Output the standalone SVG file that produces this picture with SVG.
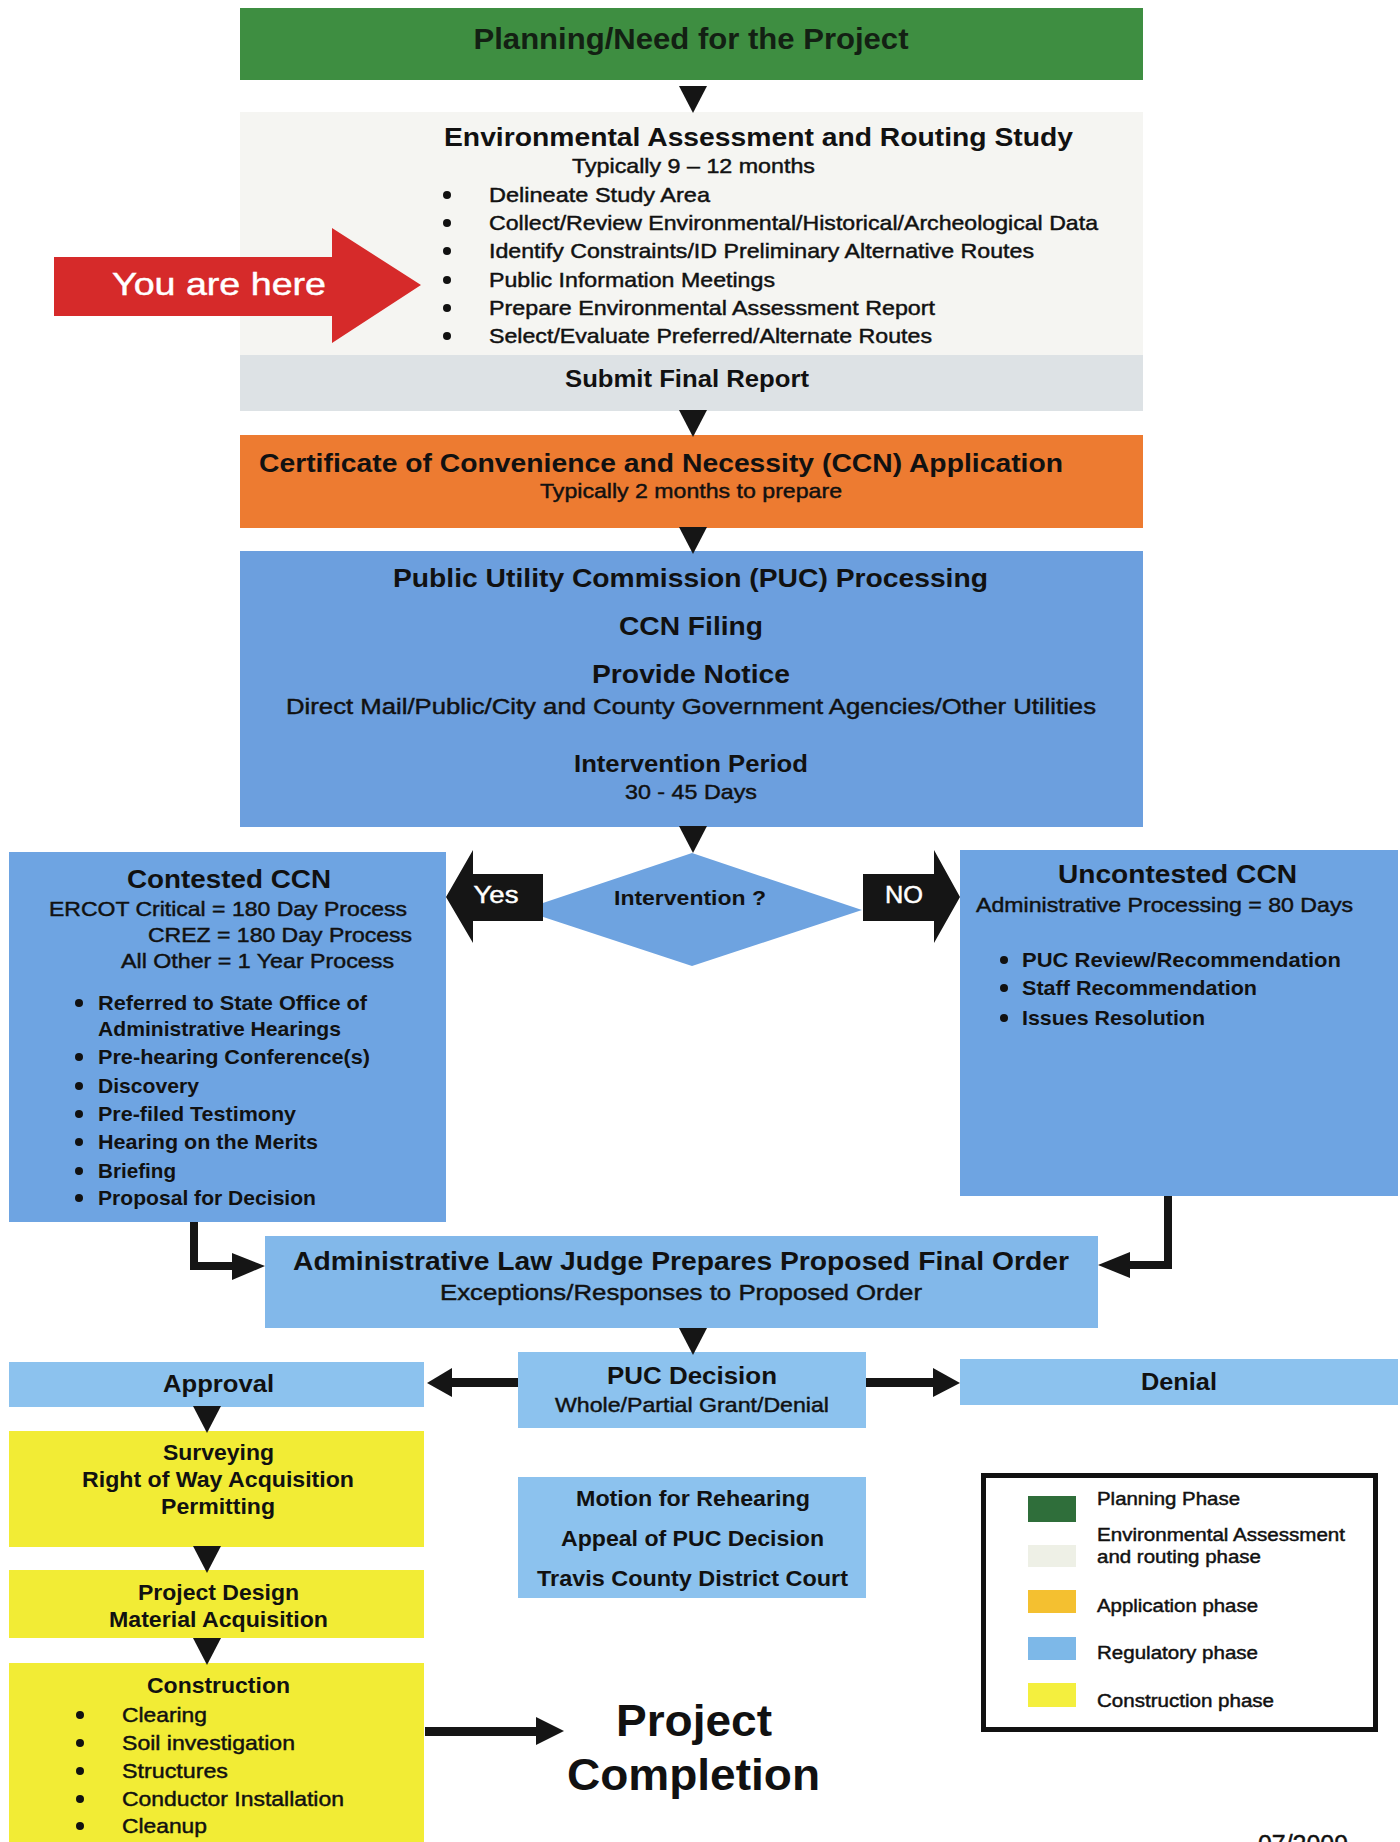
<svg xmlns="http://www.w3.org/2000/svg" width="1400" height="1842" viewBox="0 0 1400 1842">
<style>
.b{font-family:"Liberation Sans",Arial,Helvetica,sans-serif;font-weight:bold;fill:#111}
.r{font-family:"Liberation Sans",Arial,Helvetica,sans-serif;font-weight:normal;fill:#111;stroke:#111;stroke-width:0.45}
.c{text-anchor:middle}
.w{fill:#fff;stroke:#fff}
.reg{fill:#6ea4e2}
.lt{fill:#8cc2ee}
.yel{fill:#f2ec35}
.blk{fill:#151515}
</style>
<defs>
<path id="dn" d="M-14,0 L14,0 L0,27 Z" fill="#151515"/>
<circle id="dot" r="4" fill="#111"/>
</defs>
<rect x="0" y="0" width="1400" height="1842" fill="#ffffff"/>

<g id="planning">
<rect x="240" y="8" width="903" height="72" fill="#3e8e41"/>
<text class="b c" x="691" y="49" font-size="29" textLength="435" lengthAdjust="spacingAndGlyphs" style="fill:#132013">Planning/Need for the Project</text>
</g>

<g id="env-study">
<rect x="240" y="112" width="903" height="243" fill="#f5f5f2"/>
<text class="b" x="444" y="146" font-size="25" textLength="629" lengthAdjust="spacingAndGlyphs">Environmental Assessment and Routing Study</text>
<text class="r" x="572" y="173" font-size="21" textLength="243" lengthAdjust="spacingAndGlyphs">Typically 9 – 12 months</text>
<use href="#dot" x="447" y="195"/>
<use href="#dot" x="447" y="223"/>
<use href="#dot" x="447" y="251"/>
<use href="#dot" x="447" y="280"/>
<use href="#dot" x="447" y="308"/>
<use href="#dot" x="447" y="336"/>
<text class="r" x="489" y="202" font-size="21" textLength="221" lengthAdjust="spacingAndGlyphs">Delineate Study Area</text>
<text class="r" x="489" y="230" font-size="21" textLength="609" lengthAdjust="spacingAndGlyphs">Collect/Review Environmental/Historical/Archeological Data</text>
<text class="r" x="489" y="258" font-size="21" textLength="545" lengthAdjust="spacingAndGlyphs">Identify Constraints/ID Preliminary Alternative Routes</text>
<text class="r" x="489" y="287" font-size="21" textLength="286" lengthAdjust="spacingAndGlyphs">Public Information Meetings</text>
<text class="r" x="489" y="315" font-size="21" textLength="446" lengthAdjust="spacingAndGlyphs">Prepare Environmental Assessment Report</text>
<text class="r" x="489" y="343" font-size="21" textLength="443" lengthAdjust="spacingAndGlyphs">Select/Evaluate Preferred/Alternate Routes</text>
</g>

<g id="submit-report">
<rect x="240" y="355" width="903" height="56" fill="#dde2e5"/>
<text class="b" x="565" y="387" font-size="23" textLength="244" lengthAdjust="spacingAndGlyphs">Submit Final Report</text>
</g>

<g id="you-are-here">
<path d="M54,257 L332,257 L332,228 L421,285 L332,343 L332,316 L54,316 Z" fill="#d62a2a"/>
<text class="r w" x="112" y="295" font-size="32" textLength="214" lengthAdjust="spacingAndGlyphs">You are here</text>
</g>

<g id="ccn-application">
<rect x="240" y="435" width="903" height="93" fill="#ed7b31"/>
<text class="b" x="259" y="472" font-size="26" textLength="804" lengthAdjust="spacingAndGlyphs">Certificate of Convenience and Necessity (CCN) Application</text>
<text class="r" x="540" y="498" font-size="21" textLength="302" lengthAdjust="spacingAndGlyphs">Typically 2 months to prepare</text>
</g>

<g id="puc-processing">
<rect x="240" y="551" width="903" height="276" fill="#6c9fde"/>
<text class="b" x="393" y="587" font-size="26" textLength="595" lengthAdjust="spacingAndGlyphs">Public Utility Commission (PUC) Processing</text>
<text class="b" x="619" y="635" font-size="26" textLength="144" lengthAdjust="spacingAndGlyphs">CCN Filing</text>
<text class="b" x="592" y="683" font-size="26" textLength="198" lengthAdjust="spacingAndGlyphs">Provide Notice</text>
<text class="r" x="286" y="714" font-size="22" textLength="810" lengthAdjust="spacingAndGlyphs">Direct Mail/Public/City and County Government Agencies/Other Utilities</text>
<text class="b" x="574" y="772" font-size="23" textLength="234" lengthAdjust="spacingAndGlyphs">Intervention Period</text>
<text class="r" x="625" y="799" font-size="21" textLength="132" lengthAdjust="spacingAndGlyphs">30 - 45 Days</text>
</g>

<g id="intervention">
<polygon points="692,853 862,910 692,966 522,910" fill="#6ea3e0"/>
<text class="b" x="614" y="905" font-size="21" textLength="152" lengthAdjust="spacingAndGlyphs">Intervention ?</text>
</g>

<g id="contested">
<rect x="9" y="852" width="437" height="370" class="reg"/>
<text class="b" x="127" y="888" font-size="26" textLength="204" lengthAdjust="spacingAndGlyphs">Contested CCN</text>
<text class="r" x="49" y="916" font-size="21" textLength="358" lengthAdjust="spacingAndGlyphs">ERCOT Critical = 180 Day Process</text>
<text class="r" x="148" y="942" font-size="21" textLength="264" lengthAdjust="spacingAndGlyphs">CREZ = 180 Day Process</text>
<text class="r" x="121" y="968" font-size="21" textLength="273" lengthAdjust="spacingAndGlyphs">All Other = 1 Year Process</text>
<use href="#dot" x="79" y="1003"/>
<use href="#dot" x="79" y="1057"/>
<use href="#dot" x="79" y="1086"/>
<use href="#dot" x="79" y="1114"/>
<use href="#dot" x="79" y="1142"/>
<use href="#dot" x="79" y="1171"/>
<use href="#dot" x="79" y="1198"/>
<text class="b" x="98" y="1010" font-size="21" textLength="269" lengthAdjust="spacingAndGlyphs">Referred to State Office of</text>
<text class="b" x="98" y="1036" font-size="21" textLength="243" lengthAdjust="spacingAndGlyphs">Administrative Hearings</text>
<text class="b" x="98" y="1064" font-size="21" textLength="272" lengthAdjust="spacingAndGlyphs">Pre-hearing Conference(s)</text>
<text class="b" x="98" y="1093" font-size="21" textLength="101" lengthAdjust="spacingAndGlyphs">Discovery</text>
<text class="b" x="98" y="1121" font-size="21" textLength="198" lengthAdjust="spacingAndGlyphs">Pre-filed Testimony</text>
<text class="b" x="98" y="1149" font-size="21" textLength="220" lengthAdjust="spacingAndGlyphs">Hearing on the Merits</text>
<text class="b" x="98" y="1178" font-size="21" textLength="78" lengthAdjust="spacingAndGlyphs">Briefing</text>
<text class="b" x="98" y="1205" font-size="21" textLength="218" lengthAdjust="spacingAndGlyphs">Proposal for Decision</text>
</g>

<g id="uncontested">
<rect x="960" y="850" width="438" height="346" class="reg"/>
<text class="b" x="1058" y="883" font-size="26" textLength="239" lengthAdjust="spacingAndGlyphs">Uncontested CCN</text>
<text class="r" x="976" y="912" font-size="21" textLength="377" lengthAdjust="spacingAndGlyphs">Administrative Processing = 80 Days</text>
<use href="#dot" x="1004" y="960"/>
<use href="#dot" x="1004" y="988"/>
<use href="#dot" x="1004" y="1018"/>
<text class="b" x="1022" y="967" font-size="21" textLength="319" lengthAdjust="spacingAndGlyphs">PUC Review/Recommendation</text>
<text class="b" x="1022" y="995" font-size="21" textLength="235" lengthAdjust="spacingAndGlyphs">Staff Recommendation</text>
<text class="b" x="1022" y="1025" font-size="21" textLength="183" lengthAdjust="spacingAndGlyphs">Issues Resolution</text>
</g>

<g id="alj">
<rect x="265" y="1236" width="833" height="92" fill="#82b8ea"/>
<text class="b" x="293" y="1270" font-size="26" textLength="776" lengthAdjust="spacingAndGlyphs">Administrative Law Judge Prepares Proposed Final Order</text>
<text class="r" x="440" y="1300" font-size="22" textLength="482" lengthAdjust="spacingAndGlyphs">Exceptions/Responses to Proposed Order</text>
</g>

<g id="puc-decision">
<rect x="518" y="1352" width="348" height="76" class="lt"/>
<text class="b" x="607" y="1384" font-size="24" textLength="170" lengthAdjust="spacingAndGlyphs">PUC Decision</text>
<text class="r" x="555" y="1412" font-size="21" textLength="274" lengthAdjust="spacingAndGlyphs">Whole/Partial Grant/Denial</text>
</g>

<g id="approval">
<rect x="9" y="1362" width="415" height="45" class="lt"/>
<text class="b" x="163" y="1392" font-size="24" textLength="111" lengthAdjust="spacingAndGlyphs">Approval</text>
</g>

<g id="denial">
<rect x="960" y="1359" width="438" height="46" class="lt"/>
<text class="b" x="1141" y="1390" font-size="24" textLength="76" lengthAdjust="spacingAndGlyphs">Denial</text>
</g>

<g id="surveying">
<rect x="9" y="1431" width="415" height="116" class="yel"/>
<text class="b" x="163" y="1460" font-size="22" textLength="111" lengthAdjust="spacingAndGlyphs">Surveying</text>
<text class="b" x="82" y="1487" font-size="22" textLength="272" lengthAdjust="spacingAndGlyphs">Right of Way Acquisition</text>
<text class="b" x="161" y="1514" font-size="22" textLength="114" lengthAdjust="spacingAndGlyphs">Permitting</text>
</g>

<g id="project-design">
<rect x="9" y="1570" width="415" height="68" class="yel"/>
<text class="b" x="138" y="1600" font-size="22" textLength="161" lengthAdjust="spacingAndGlyphs">Project Design</text>
<text class="b" x="109" y="1627" font-size="22" textLength="219" lengthAdjust="spacingAndGlyphs">Material Acquisition</text>
</g>

<g id="construction">
<rect x="9" y="1663" width="415" height="179" class="yel"/>
<text class="b" x="147" y="1693" font-size="22" textLength="143" lengthAdjust="spacingAndGlyphs">Construction</text>
<use href="#dot" x="80" y="1715"/>
<use href="#dot" x="80" y="1743"/>
<use href="#dot" x="80" y="1771"/>
<use href="#dot" x="80" y="1799"/>
<use href="#dot" x="80" y="1826"/>
<text class="r" x="122" y="1722" font-size="21" textLength="85" lengthAdjust="spacingAndGlyphs">Clearing</text>
<text class="r" x="122" y="1750" font-size="21" textLength="173" lengthAdjust="spacingAndGlyphs">Soil investigation</text>
<text class="r" x="122" y="1778" font-size="21" textLength="106" lengthAdjust="spacingAndGlyphs">Structures</text>
<text class="r" x="122" y="1806" font-size="21" textLength="222" lengthAdjust="spacingAndGlyphs">Conductor Installation</text>
<text class="r" x="122" y="1833" font-size="21" textLength="85" lengthAdjust="spacingAndGlyphs">Cleanup</text>
</g>

<g id="rehearing">
<rect x="518" y="1477" width="348" height="121" class="lt"/>
<text class="b" x="576" y="1506" font-size="22" textLength="234" lengthAdjust="spacingAndGlyphs">Motion for Rehearing</text>
<text class="b" x="561" y="1546" font-size="22" textLength="263" lengthAdjust="spacingAndGlyphs">Appeal of PUC Decision</text>
<text class="b" x="537" y="1586" font-size="22" textLength="311" lengthAdjust="spacingAndGlyphs">Travis County District Court</text>
</g>

<g id="completion">
<text class="b" x="616" y="1736" font-size="44" textLength="156" lengthAdjust="spacingAndGlyphs">Project</text>
<text class="b" x="567" y="1790" font-size="44" textLength="253" lengthAdjust="spacingAndGlyphs">Completion</text>
</g>

<g id="legend">
<rect x="983.5" y="1475.5" width="392" height="254" fill="#fff" stroke="#111" stroke-width="5"/>
<rect x="1028" y="1496" width="48" height="26" fill="#2f6e3a"/>
<rect x="1028" y="1545" width="48" height="22" fill="#eef0e6"/>
<rect x="1028" y="1590" width="48" height="23" fill="#f4c030"/>
<rect x="1028" y="1637" width="48" height="23" fill="#7db8e8"/>
<rect x="1028" y="1683" width="48" height="24" fill="#f4ef3e"/>
<text class="r" x="1097" y="1505" font-size="18" textLength="143" lengthAdjust="spacingAndGlyphs">Planning Phase</text>
<text class="r" x="1097" y="1541" font-size="18" textLength="248" lengthAdjust="spacingAndGlyphs">Environmental Assessment</text>
<text class="r" x="1097" y="1563" font-size="18" textLength="164" lengthAdjust="spacingAndGlyphs">and routing phase</text>
<text class="r" x="1097" y="1612" font-size="18" textLength="161" lengthAdjust="spacingAndGlyphs">Application phase</text>
<text class="r" x="1097" y="1659" font-size="18" textLength="161" lengthAdjust="spacingAndGlyphs">Regulatory phase</text>
<text class="r" x="1097" y="1707" font-size="18" textLength="177" lengthAdjust="spacingAndGlyphs">Construction phase</text>
</g>

<g id="date">
<text class="r" x="1258" y="1853" font-size="25" textLength="90" lengthAdjust="spacingAndGlyphs">07/2009</text>
</g>

<g id="connectors">
<use href="#dn" x="693" y="86"/>
<use href="#dn" x="693" y="410"/>
<use href="#dn" x="693" y="527"/>
<use href="#dn" x="693" y="826"/>
<use href="#dn" x="693" y="1328"/>
<use href="#dn" x="207" y="1406"/>
<use href="#dn" x="207" y="1546"/>
<use href="#dn" x="207" y="1638"/>
<path d="M543,874 L473,874 L473,850 L446,897 L473,943 L473,921 L543,921 Z" class="blk"/>
<text class="r w c" x="496" y="903" font-size="23" textLength="45" lengthAdjust="spacingAndGlyphs">Yes</text>
<path d="M863,874 L934,874 L934,850 L960,897 L934,943 L934,921 L863,921 Z" class="blk"/>
<text class="r w c" x="904" y="903" font-size="23" textLength="38" lengthAdjust="spacingAndGlyphs">NO</text>
<path d="M194,1222 L194,1266 L234,1266" fill="none" stroke="#151515" stroke-width="8"/>
<polygon points="232,1253 265,1266 232,1280" class="blk"/>
<path d="M1168,1196 L1168,1265 L1128,1265" fill="none" stroke="#151515" stroke-width="8"/>
<polygon points="1130,1252 1098,1265 1130,1278" class="blk"/>
<rect x="449" y="1378" width="69" height="9" class="blk"/>
<polygon points="452,1368 427,1383 452,1397" class="blk"/>
<rect x="866" y="1378" width="69" height="9" class="blk"/>
<polygon points="933,1368 960,1383 933,1397" class="blk"/>
<rect x="425" y="1727" width="113" height="9" class="blk"/>
<polygon points="536,1717 564,1731 536,1745" class="blk"/>
</g>
</svg>
